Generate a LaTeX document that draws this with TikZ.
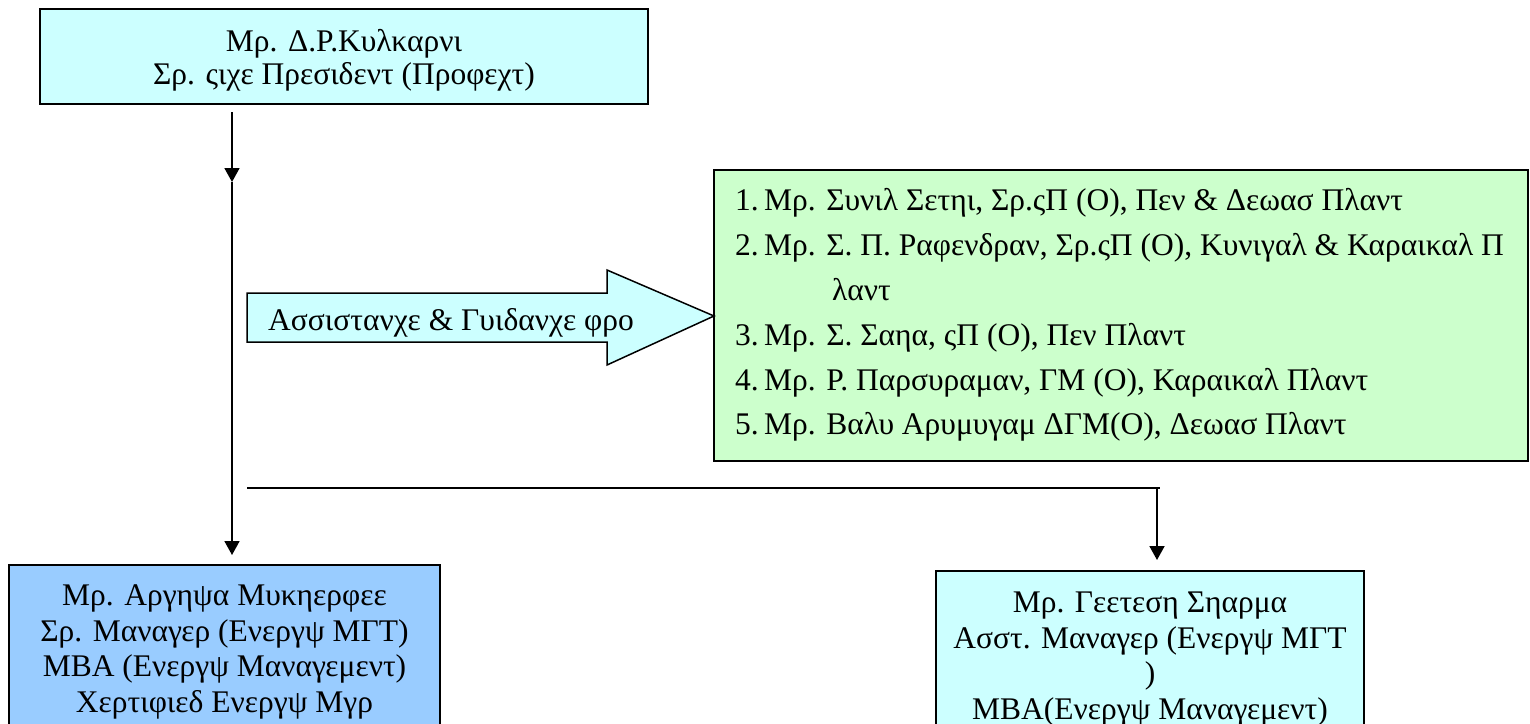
\documentclass[tikz,border=0pt]{standalone}
\usepackage{fontspec}
\setmainfont{Liberation Serif}
\usetikzlibrary{arrows.meta}
\definecolor{cyanbox}{HTML}{CCFFFF}
\definecolor{bluebox}{HTML}{99CCFF}
\definecolor{greenbox}{HTML}{CCFFCC}
\begin{document}
\begin{tikzpicture}[x=1pt,y=-1pt,
  box/.style={draw=black, line width=2pt, inner sep=0pt, align=center,
    font=\fontsize{31.5}{35.5}\selectfont},
  txt/.style={inner sep=0pt, anchor=base west, font=\fontsize{31.5}{35.5}\selectfont},
  conn/.style={line width=1.8pt},
  tipped/.style={conn, -{Triangle[width=15pt,length=14pt]}}]
\useasboundingbox (0,0) rectangle (1530,723);
\clip (0,0) rectangle (1530,723);
% boxes
\node[box, fill=cyanbox, minimum width=608pt, minimum height=95pt,
  font=\fontsize{31.5}{33}\selectfont] (top) at (344,56.5)
  {\rule{0pt}{30pt}Μρ. Δ.Ρ.Κυλκαρνι\\Σρ. ςιχε Πρεσιδεντ (Προφεχτ)};
\node[box, fill=bluebox, minimum width=431pt, minimum height=174pt, anchor=north] (left) at (224.5,564)
  {Μρ. Αργηψα Μυκηερφεε\\Σρ. Μαναγερ (Ενεργψ ΜΓΤ)\\ΜΒΑ (Ενεργψ Μαναγεμεντ)\\Χερτιφιεδ Ενεργψ Μγρ};
\node[box, fill=cyanbox, minimum width=428pt, minimum height=176pt, anchor=north] (right) at (1150,570)
  {Μρ. Γεετεση Σηαρμα\\Ασστ. Μαναγερ (Ενεργψ ΜΓΤ\\)\\ΜΒΑ(Ενεργψ Μαναγεμεντ)};
\node[box, fill=greenbox, minimum width=814pt, minimum height=291pt] (green) at (1121,315.5) {};
% list
\node[txt] (n1) at (735,210) {1.};
\node[txt] (l1) at (764,210) {Μρ. Συνιλ Σετηι, Σρ.ςΠ (Ο), Πεν \& Δεωασ Πλαντ};
\node[txt] (n2) at (735,255) {2.};
\node[txt] (l2) at (764,255) {Μρ. Σ. Π. Ραφενδραν, Σρ.ςΠ (Ο), Κυνιγαλ \& Καραικαλ Π};
\node[txt] (l2b) at (832,300) {λαντ};
\node[txt] (n3) at (735,345) {3.};
\node[txt] (l3) at (764,345) {Μρ. Σ. Σαηα, ςΠ (Ο), Πεν Πλαντ};
\node[txt] (n4) at (735,390) {4.};
\node[txt] (l4) at (764,390) {Μρ. Ρ. Παρσυραμαν, ΓΜ (Ο), Καραικαλ Πλαντ};
\node[txt] (n5) at (735,434) {5.};
\node[txt] (l5) at (764,434) {Μρ. Βαλυ Αρυμυγαμ ΔΓΜ(Ο), Δεωασ Πλαντ};
% block arrow
\draw[line width=1.5pt, fill=cyanbox, line join=miter]
  (247,293) -- (607,293) -- (607,270) -- (714,316) -- (607,365) -- (607,342) -- (247,342) -- cycle;
\node[txt] (arrowtext) at (268,330) {Ασσιστανχε \& Γυιδανχε φρο};
% connectors
\coordinate (v0) at (232,112);
\coordinate (vmid) at (232,182);
\coordinate (h0) at (247,488);
\coordinate (h1) at (1157,488);
\coordinate (h2) at (1160,488);
\draw[tipped] (v0) -- (vmid);
\draw[tipped, shorten >=9pt] (vmid) -- (left.north -| vmid);
\draw[conn] (h0) -- (h2);
\draw[tipped, shorten >=10pt] (h1) -- (right.north -| h1);
\end{tikzpicture}
\end{document}
